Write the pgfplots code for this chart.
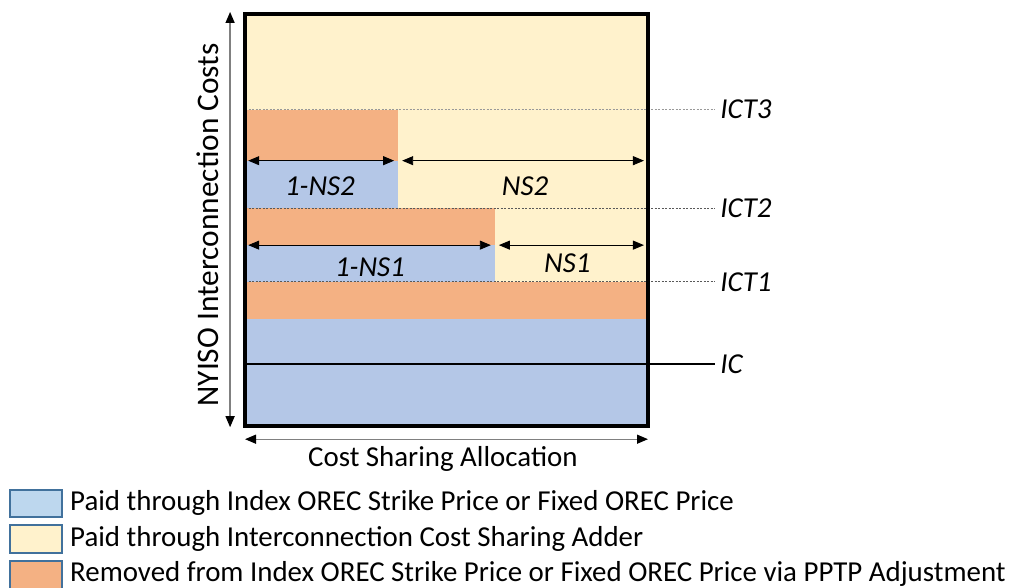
\documentclass[border=0pt]{standalone}
\usepackage{pgfplots}
\pgfplotsset{compat=1.18}
\usepackage{fontspec}
\setmainfont{Carlito}
\usetikzlibrary{arrows.meta}
\definecolor{cblue}{HTML}{B4C7E7}
\definecolor{cyellow}{HTML}{FFF2CC}
\definecolor{corange}{HTML}{F4B183}
\definecolor{lblue}{HTML}{BDD7EE}
\definecolor{ledge}{HTML}{41719C}
\newcommand{\chfont}{\fontsize{29}{34}\selectfont}
\begin{document}
\begin{tikzpicture}
\useasboundingbox (0bp,0bp) rectangle (1010bp,-588bp);
\begin{axis}[
  at={(245bp,-426bp)}, anchor=south west,
  scale only axis, width=403bp, height=412bp,
  xmin=0, xmax=1, ymin=0, ymax=100,
  hide axis, clip=false,
  every axis plot/.append style={draw=none},
  font=\chfont,
]
% filled regions
\addplot[fill=cblue]   coordinates {(0,0) (1,0) (1,26) (0,26)} -- cycle;
\addplot[fill=corange] coordinates {(0,26) (1,26) (1,35) (0,35)} -- cycle;
\addplot[fill=cblue]   coordinates {(0,35) (0.62,35) (0.62,43.9) (0,43.9)} -- cycle;
\addplot[fill=corange] coordinates {(0,43.9) (0.62,43.9) (0.62,52.9) (0,52.9)} -- cycle;
\addplot[fill=cyellow] coordinates {(0.62,35) (1,35) (1,52.9) (0.62,52.9)} -- cycle;
\addplot[fill=cblue]   coordinates {(0,52.9) (0.38,52.9) (0.38,64.4) (0,64.4)} -- cycle;
\addplot[fill=corange] coordinates {(0,64.4) (0.38,64.4) (0.38,76.8) (0,76.8)} -- cycle;
\addplot[fill=cyellow] coordinates {(0.38,52.9) (1,52.9) (1,76.8) (0.38,76.8)} -- cycle;
\addplot[fill=cyellow] coordinates {(0,76.8) (1,76.8) (1,100) (0,100)} -- cycle;
% threshold lines
\addplot[draw=gray!80, line width=1bp, dash pattern=on 2bp off 1.5bp] coordinates {(0,76.8) (1.166,76.8)};
\addplot[draw=black!65, line width=0.8bp, dash pattern=on 2bp off 1.5bp] coordinates {(0,52.9) (1.166,52.9)};
\addplot[draw=black!65, line width=0.8bp, dash pattern=on 2bp off 1.5bp] coordinates {(0,35) (1.166,35)};
\addplot[draw=black, line width=2bp] coordinates {(0,15) (1.166,15)};
% share arrows
\addplot[draw=black, line width=0.9bp, {Triangle[length=11bp,width=9bp]}-{Triangle[length=11bp,width=9bp]}] coordinates {(0.008,64.4) (0.37,64.4)};
\addplot[draw=black, line width=0.9bp, {Triangle[length=11bp,width=9bp]}-{Triangle[length=11bp,width=9bp]}] coordinates {(0.39,64.4) (0.99,64.4)};
\addplot[draw=black, line width=0.9bp, {Triangle[length=11bp,width=9bp]}-{Triangle[length=11bp,width=9bp]}] coordinates {(0.008,43.9) (0.61,43.9)};
\addplot[draw=black, line width=0.9bp, {Triangle[length=11bp,width=9bp]}-{Triangle[length=11bp,width=9bp]}] coordinates {(0.63,43.9) (0.99,43.9)};
\node[font=\chfont\itshape] at (axis cs:0.186,58.3) {1-NS2};
\node[font=\chfont\itshape] at (axis cs:0.695,58.3) {NS2};
\node[font=\chfont\itshape] at (axis cs:0.31,38.6) {1-NS1};
\node[font=\chfont\itshape] at (axis cs:0.80,39.6) {NS1};
\node[font=\chfont\itshape, anchor=west, inner sep=0pt] at (axis cs:1.179,76.8) {ICT3};
\node[font=\chfont\itshape, anchor=west, inner sep=0pt] at (axis cs:1.179,52.9) {ICT2};
\node[font=\chfont\itshape, anchor=west, inner sep=0pt] at (axis cs:1.179,35) {ICT1};
\node[font=\chfont\itshape, anchor=west, inner sep=0pt] at (axis cs:1.179,15) {IC};
% frame
\draw[black, line width=4bp] (axis cs:0,0) rectangle (axis cs:1,100);
% axis arrows
\draw[gray, line width=1.3bp, {Triangle[length=11bp,width=9bp,black]}-{Triangle[length=11bp,width=9bp,black]}] (axis cs:-0.037,-0.3) -- (axis cs:-0.037,100.5);
\draw[gray, line width=1.3bp, {Triangle[length=11bp,width=9bp,black]}-{Triangle[length=11bp,width=9bp,black]}] (axis cs:0,-3.2) -- (axis cs:1,-3.2);
\node[rotate=90, font=\fontsize{31.5}{36}\selectfont] at (axis cs:-0.092,48.8) {NYISO Interconnection Costs};
\node at (axis cs:0.491,-8.0) {Cost Sharing Allocation};
\end{axis}
% legend
\draw[fill=lblue, draw=ledge, line width=2bp] (10bp,-490bp) rectangle (62bp,-517bp);
\draw[fill=cyellow, draw=ledge, line width=2bp] (10bp,-525bp) rectangle (62bp,-553bp);
\draw[fill=corange, draw=ledge, line width=2bp] (10bp,-561bp) rectangle (62bp,-589bp);
\node[anchor=west, inner sep=0pt, font=\chfont] at (70bp,-503bp) {Paid through Index OREC Strike Price or Fixed OREC Price};
\node[anchor=west, inner sep=0pt, font=\chfont] at (70bp,-539bp) {Paid through Interconnection Cost Sharing Adder};
\node[anchor=west, inner sep=0pt, font=\chfont] at (70bp,-574bp) {Removed from Index OREC Strike Price or Fixed OREC Price via PPTP Adjustment};
\end{tikzpicture}
\end{document}
